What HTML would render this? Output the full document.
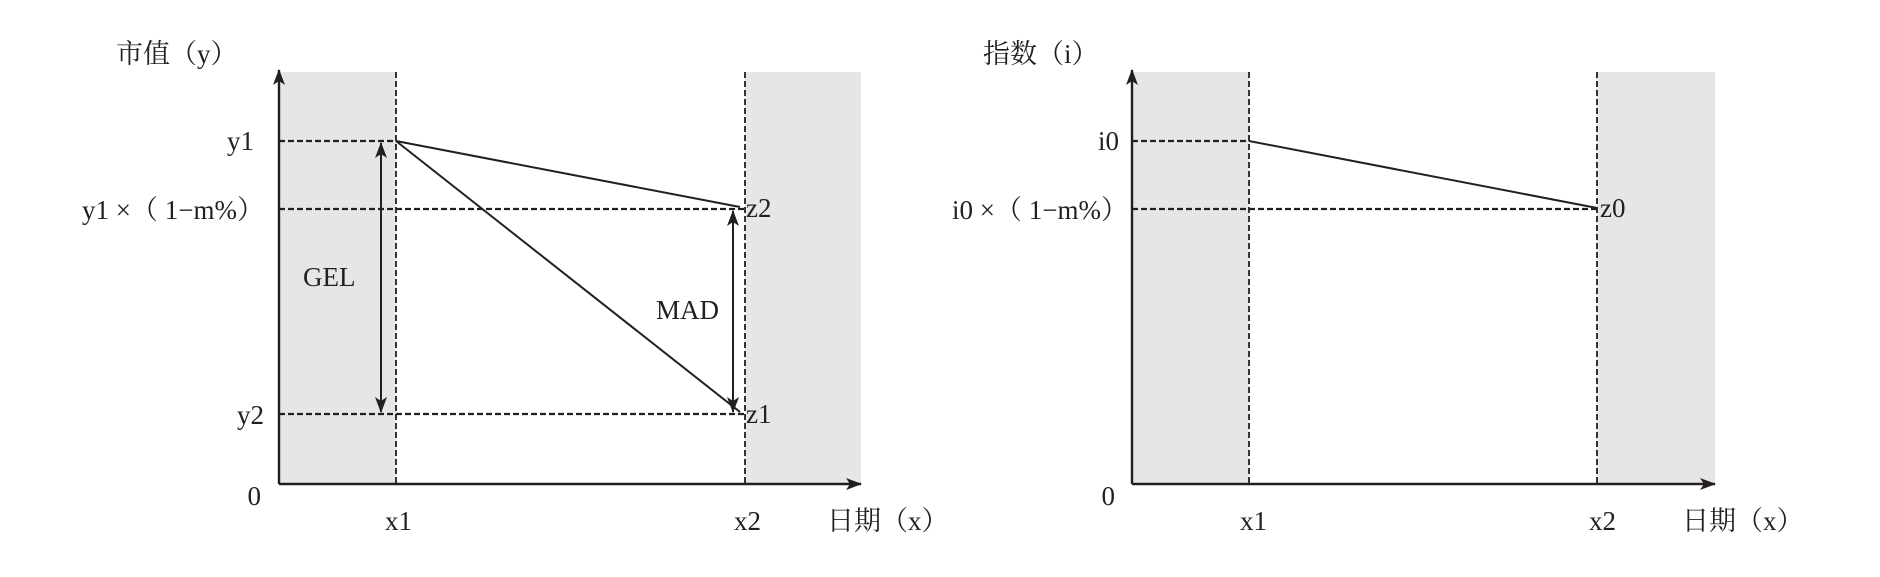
<!DOCTYPE html>
<html><head><meta charset="utf-8"><style>
html,body{margin:0;padding:0;background:#fff;}
svg text{font-family:"Liberation Serif","Noto Serif CJK SC",serif;font-size:27px;fill:#231f20;}
</style></head><body>
<svg width="1880" height="572" viewBox="0 0 1880 572" xmlns="http://www.w3.org/2000/svg">
<defs>
<marker id="as" markerWidth="16" markerHeight="12" refX="15" refY="6" orient="auto-start-reverse" markerUnits="userSpaceOnUse">
<path d="M0,0 L16,6 L0,12 L4,6 Z" fill="#231f20"/></marker>
</defs>
<!-- LEFT CHART -->
<rect x="279" y="72" width="117" height="412" fill="#e6e6e6"/>
<rect x="745" y="72" width="116" height="412" fill="#e6e6e6"/>
<g stroke="#231f20" stroke-width="1.8" stroke-dasharray="6,3" fill="none">
<line x1="396" y1="72" x2="396" y2="484"/>
<line x1="745" y1="72" x2="745" y2="484"/>
<line x1="279" y1="141" x2="396" y2="141" stroke-width="2.2"/>
<line x1="279" y1="209" x2="745" y2="209" stroke-width="2.2"/>
<line x1="279" y1="414" x2="745" y2="414" stroke-width="2.2"/>
</g>
<g stroke="#231f20" stroke-width="2" fill="none">
<line x1="396" y1="141" x2="740" y2="207"/>
<line x1="396" y1="141" x2="740" y2="412"/>
<line x1="381" y1="143" x2="381" y2="412" marker-start="url(#as)" marker-end="url(#as)"/>
<line x1="733" y1="211" x2="733" y2="412" marker-start="url(#as)" marker-end="url(#as)"/>
<line x1="279" y1="484" x2="279" y2="70" stroke-width="2.4" marker-end="url(#as)"/>
<line x1="279" y1="484" x2="861" y2="484" stroke-width="2.4" marker-end="url(#as)"/>
</g>
<text x="116" y="63">市值（y）</text>
<text x="254" y="150" text-anchor="end">y1</text>
<text x="264" y="219" text-anchor="end">y1 ×（ 1−m%）</text>
<text x="264" y="424" text-anchor="end">y2</text>
<text x="261" y="505" text-anchor="end">0</text>
<text x="385" y="530">x1</text>
<text x="734" y="530">x2</text>
<text x="827" y="530">日期（x）</text>
<text x="303" y="286">GEL</text>
<text x="656" y="319">MAD</text>
<text x="746" y="217">z2</text>
<text x="746" y="423">z1</text>
<!-- RIGHT CHART -->
<rect x="1132" y="72" width="117" height="412" fill="#e6e6e6"/>
<rect x="1597" y="72" width="118" height="412" fill="#e6e6e6"/>
<g stroke="#231f20" stroke-width="1.8" stroke-dasharray="6,3" fill="none">
<line x1="1249" y1="72" x2="1249" y2="484"/>
<line x1="1597" y1="72" x2="1597" y2="484"/>
<line x1="1132" y1="141" x2="1249" y2="141" stroke-width="2.2"/>
<line x1="1132" y1="209" x2="1597" y2="209" stroke-width="2.2"/>
</g>
<g stroke="#231f20" stroke-width="2" fill="none">
<line x1="1249" y1="141" x2="1597" y2="208"/>
<line x1="1132" y1="484" x2="1132" y2="70" stroke-width="2.4" marker-end="url(#as)"/>
<line x1="1132" y1="484" x2="1715" y2="484" stroke-width="2.4" marker-end="url(#as)"/>
</g>
<text x="983" y="63">指数（i）</text>
<text x="1119" y="150" text-anchor="end">i0</text>
<text x="1128" y="219" text-anchor="end">i0 ×（ 1−m%）</text>
<text x="1115" y="505" text-anchor="end">0</text>
<text x="1240" y="530">x1</text>
<text x="1589" y="530">x2</text>
<text x="1682" y="530">日期（x）</text>
<text x="1600" y="217">z0</text>
</svg>
</body></html>
